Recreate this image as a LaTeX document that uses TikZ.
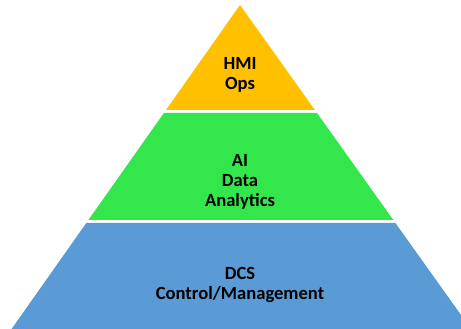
\documentclass[tikz,border=0pt]{standalone}
\usepackage{fontspec}
\setmainfont{Carlito}
\begin{document}
\begin{tikzpicture}[x=1pt,y=1pt,
  band/.style={draw=none},
  lbl/.style={anchor=base,inner sep=0pt,text=black,
    font=\fontsize{18.6}{20.5}\selectfont\bfseries}]
\useasboundingbox (0,0) rectangle (461,329);
\clip (0,0) rectangle (461,329);
% pyramid layers, separated by thin white gaps
\fill[band,fill={rgb,255:red,255;green,192;blue,0}]
  (240,324) -- (314.9,219) -- (166.0,219) -- cycle;
\fill[band,fill={rgb,255:red,50;green,230;blue,76}]
  (163.9,216) -- (317.0,216) -- (393.3,109) -- (88.4,109) -- cycle;
\fill[band,fill={rgb,255:red,91;green,155;blue,213}]
  (86.3,106) -- (395.4,106) -- (478.9,-11) -- (3.8,-11) -- cycle;
% layer captions
\node[lbl] (hmi) at (240,259) {HMI};
\node[lbl] (ops) at (240,239.5) {Ops};
\node[lbl] (ai) at (240,162.3) {AI};
\node[lbl] (data) at (240,142.3) {Data};
\node[lbl] (analytics) at (240,122.3) {Analytics};
\node[lbl] (dcs) at (240,49) {DCS};
\node[lbl] (ctrl) at (240,29) {Control/Management};
\end{tikzpicture}
\end{document}
